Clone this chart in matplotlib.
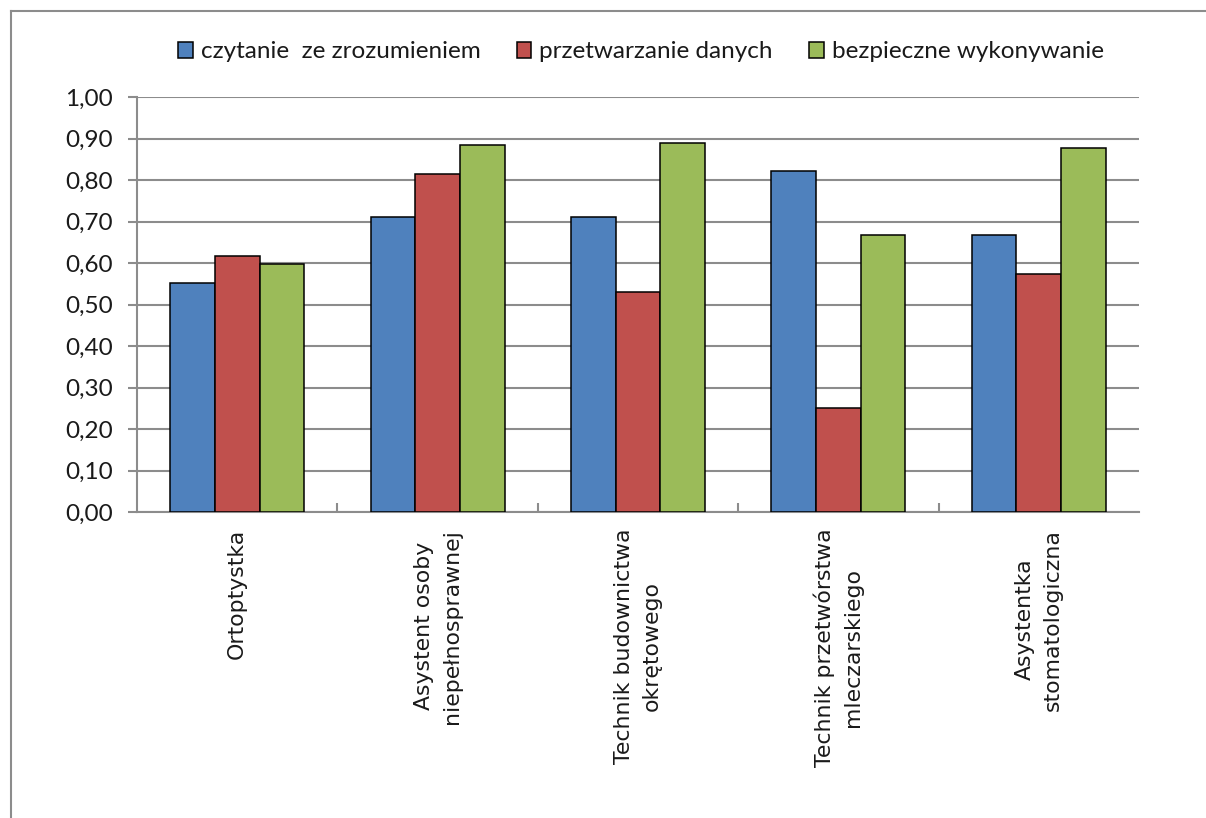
import numpy as np
import matplotlib
matplotlib.use("Agg")
import matplotlib.pyplot as plt
from matplotlib.lines import Line2D
from matplotlib.ticker import FixedLocator, FuncFormatter

# data
categories = ["Ortoptystka", "Asystent osoby\nniepełnosprawnej", "Technik budownictwa\nokrętowego",
              "Technik przetwórstwa\nmleczarskiego", "Asystentka\nstomatologiczna"]
series_names = ["czytanie  ze zrozumieniem", "przetwarzanie danych", "bezpieczne wykonywanie"]
czytanie = [0.551, 0.710, 0.710, 0.822, 0.667]
przetwarzanie = [0.618, 0.814, 0.529, 0.250, 0.573]
bezpieczne = [0.598, 0.885, 0.890, 0.667, 0.877]
colors = ["#4F81BD", "#C0504D", "#9BBB59"]

grid_col = "#8C8C8C"
text_col = "#1A1A1A"

fig = plt.figure(figsize=(12.06, 8.18), dpi=100)
ax = fig.add_axes([137 / 1206, 1 - 512 / 818, (1139 - 137) / 1206, (512 - 97) / 818])

x = np.arange(len(categories))
w = 0.223
for k, vals in enumerate([czytanie, przetwarzanie, bezpieczne]):
    ax.bar(x + (k - 1) * w, vals, width=w, color=colors[k], edgecolor="black",
           linewidth=1.1, label=series_names[k], zorder=3)

ax.set_xlim(-0.5, len(categories) - 0.5)
ax.set_ylim(0, 1.0)
ax.set_yticks(np.arange(0, 1.01, 0.1))
ax.yaxis.set_major_formatter(FuncFormatter(lambda v, p: f"{v:.2f}".replace(".", ",")))
ax.yaxis.grid(True, color=grid_col, linewidth=1.5, zorder=0)
ax.set_axisbelow(True)

for s in ["top", "right"]:
    ax.spines[s].set_visible(False)
for s in ["left", "bottom"]:
    ax.spines[s].set_color(grid_col)
    ax.spines[s].set_linewidth(1.5)

ax.tick_params(axis="y", direction="out", length=6.5, width=1.5, color=grid_col,
               pad=11, labelsize=17.5, labelcolor=text_col)
for t in ax.get_yticklabels():
    t.set_fontfamily("Lato")

# category ticks: labels at centres, small inward marks at group borders
ax.set_xticks(x)
ax.set_xticklabels(categories, rotation=90, fontfamily="DejaVu Sans", fontsize=15.8,
                   color=text_col, linespacing=1.5, multialignment="center")
ax.tick_params(axis="x", which="major", length=0, pad=12)
ax.xaxis.set_minor_locator(FixedLocator(np.arange(0.5, len(categories) - 0.5, 1)))
ax.tick_params(axis="x", which="minor", direction="in", length=6.5, width=1.5, color=grid_col)

leg = fig.legend(loc="center", bbox_to_anchor=(641 / 1206, 1 - 52 / 818), ncol=3, frameon=False,
                 prop={"family": "Lato", "size": 17.5}, handlelength=0.6, handleheight=0.6,
                 handletextpad=0.33, columnspacing=1.5, labelcolor=text_col)

# outer chart frame (cropped at right and bottom)
fig.add_artist(Line2D([10.5 / 1206, 10.5 / 1206], [0, 1 - 11 / 818], color="#8C8C8C", linewidth=1.5))
fig.add_artist(Line2D([10.5 / 1206, 1], [1 - 11 / 818, 1 - 11 / 818], color="#8C8C8C", linewidth=1.5))

fig.savefig("out.png", dpi=100)
